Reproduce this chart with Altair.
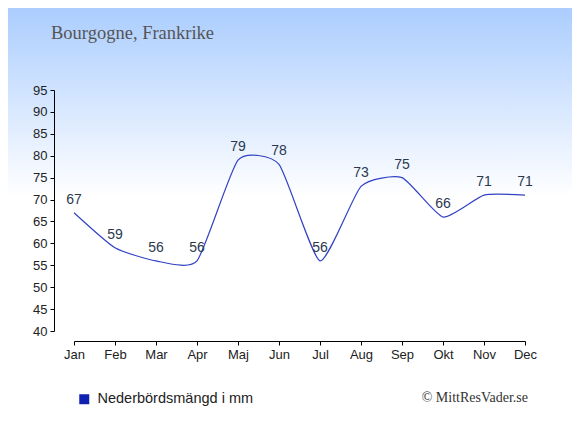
import altair as alt
import pandas as pd

months = ["Jan", "Feb", "Mar", "Apr", "Maj", "Jun", "Jul", "Aug", "Sep", "Okt", "Nov", "Dec"]
precip = [67, 59, 56, 56, 79, 78, 56, 73, 75, 66, 71, 71]
y_ticks = [40, 45, 50, 55, 60, 65, 70, 75, 80, 85, 90, 95]
title_text = "Bourgogne, Frankrike"
series_name = "Nederbördsmängd i mm"
credit = "© MittResVader.se"

df = pd.DataFrame({"month": months, "value": precip, "series": series_name})

W, H = 451, 241
PAD = {"left": 66, "top": 82, "right": 47, "bottom": 96}

x_enc = alt.X(
    "month:N", sort=months,
    scale=alt.Scale(type="point", padding=0),
    axis=alt.Axis(title=None, labelAngle=0, offset=10, tickSize=4, labelPadding=3,
                  labelFont="Liberation Sans", labelFontSize=13, labelColor="#222222",
                  domainColor="#000000", tickColor="#000000", grid=False, zindex=2),
)
y_enc = alt.Y(
    "value:Q",
    scale=alt.Scale(domain=[40, 95], nice=False, zero=False),
    axis=alt.Axis(title=None, values=y_ticks, offset=20, tickSize=4, labelPadding=3,
                  labelFont="Liberation Sans", labelFontSize=13, labelColor="#222222",
                  domainColor="#000000", tickColor="#000000", grid=False, zindex=2),
)

bg = alt.Chart(pd.DataFrame({"k": [0]})).mark_rect(
    fill=alt.LinearGradient(
        gradient="linear",
        stops=[alt.GradientStop(color="#abcdfe", offset=0),
               alt.GradientStop(color="#ffffff", offset=0.45),
               alt.GradientStop(color="#ffffff", offset=1)],
        x1=0, x2=0, y1=0, y2=1),
).encode(
    x=alt.value(-PAD["left"]), x2=alt.value(W + PAD["right"]),
    y=alt.value(-PAD["top"]), y2=alt.value(H + PAD["bottom"]),
)

line = alt.Chart(df).mark_line(
    interpolate="cardinal", tension=0.45, color="#3242c4", strokeWidth=1.2
).encode(x=x_enc, y=y_enc)

labels = alt.Chart(df).mark_text(
    dy=-9, baseline="alphabetic", font="Liberation Sans", fontSize=14, color="#2b3950"
).encode(x=x_enc, y=y_enc, text="value:Q")

legend_layer = alt.Chart(df).transform_filter("false").mark_square(opacity=1).encode(
    color=alt.Color(
        "series:N",
        scale=alt.Scale(domain=[series_name], range=["#1020b0"]),
        legend=alt.Legend(title=None, orient="none", legendX=3, legendY=302,
                          symbolType="square", symbolSize=100, symbolStrokeWidth=0,
                          symbolOpacity=1,
                          labelFont="Liberation Sans", labelFontSize=14.5,
                          labelColor="#222222", labelOffset=6, padding=0),
    )
)

credit_layer = alt.Chart(pd.DataFrame({"t": [credit]})).mark_text(
    align="right", baseline="alphabetic", font="Liberation Serif", fontSize=14, color="#333333"
).encode(x=alt.value(W + 3), y=alt.value(H + 71), text="t:N")

chart = alt.layer(bg, line, labels, legend_layer, credit_layer).properties(
    width=W, height=H,
    padding=PAD,
    autosize=alt.AutoSizeParams(type="none"),
    title=alt.TitleParams(title_text, anchor="start", frame="group", dx=-23, offset=-49,
                          baseline="alphabetic", font="Liberation Serif", fontSize=18.5,
                          fontWeight="normal", color="#555555"),
).configure_view(stroke=None)

chart.save("out.html", embed_options={"renderer": "svg", "actions": False})
